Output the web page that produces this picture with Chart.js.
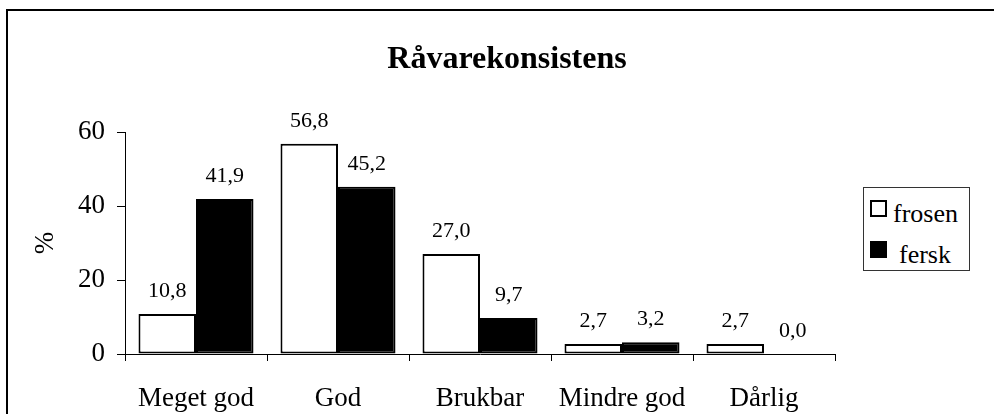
<!DOCTYPE html>
<html>
<head>
<meta charset="utf-8">
<script src="https://cdn.jsdelivr.net/npm/chart.js@4.4.0/dist/chart.umd.min.js"></script>
<style>
  html, body { margin: 0; padding: 0; background: #fff; }
  #wrap { position: relative; width: 994px; height: 414px; overflow: hidden; }
  #frame { position: absolute; left: 6px; top: 9px; width: 1000px; height: 420px;
           border-left: 2px solid #000; border-top: 2px solid #000; }
  #chart { position: absolute; left: 0; top: 0; }
  #legend { position: absolute; left: 863px; top: 187px; width: 105px; height: 82px;
            border: 1px solid #333; background: #fff;
            font-family: "Liberation Serif", "Times New Roman", serif; font-size: 26px; }
  #legend .item { position: absolute; left: 0; height: 30px; }
  #legend .box { position: absolute; left: 6px; width: 13px; height: 13px; border: 2px solid #000; }
  #legend .txt { position: absolute; left: 29px; line-height: 26px; white-space: nowrap; }
  #legend .item:nth-child(2) .txt { left: 35px; }
</style>
</head>
<body>
<div id="wrap">
  <div id="frame"></div>
  <canvas id="chart" width="994" height="414"></canvas>
  <div id="legend"></div>
</div>
<script>
// data
const categories = ['Meget god', 'God', 'Brukbar', 'Mindre god', 'Dårlig'];
const frosen = [10.8, 56.8, 27.0, 2.7, 2.7];
const fersk = [41.9, 45.2, 9.7, 3.2, 0.0];
const yTicks = [0, 20, 40, 60];

const serif = '"Liberation Serif", "Times New Roman", serif';

// value labels above every bar, decimal comma
const valueLabels = {
    id: 'valueLabels',
    afterDatasetsDraw(chart) {
        const ctx = chart.ctx;
        ctx.save();
        ctx.font = '22px ' + serif;
        ctx.fillStyle = '#000';
        ctx.textAlign = 'center';
        ctx.textBaseline = 'alphabetic';
        chart.data.datasets.forEach((ds, i) => {
            chart.getDatasetMeta(i).data.forEach((bar, j) => {
                ctx.fillText(ds.data[j].toFixed(1).replace('.', ','), bar.x, bar.y - 17);
            });
        });
        ctx.restore();
    }
};

const chart = new Chart(document.getElementById('chart'), {
    type: 'bar',
    data: {
        labels: categories,
        datasets: [{
            label: 'frosen',
            data: frosen,
            backgroundColor: '#fff',
            borderColor: '#000',
            borderWidth: 2,
            borderSkipped: false
        }, {
            label: 'fersk',
            data: fersk,
            backgroundColor: '#000',
            borderColor: '#000',
            borderWidth: 2,
            borderSkipped: false
        }]
    },
    options: {
        responsive: false,
        animation: false,
        layout: { padding: { left: 20, right: 0, top: 0, bottom: 0 } },
        datasets: { bar: { categoryPercentage: 0.81, barPercentage: 1.0 } },
        scales: {
            y: {
                min: yTicks[0],
                max: yTicks[yTicks.length - 1],
                ticks: { stepSize: yTicks[1] - yTicks[0], color: '#000', padding: 12,
                         font: { family: serif, size: 27 } },
                grid: { drawOnChartArea: false, drawTicks: true, tickLength: 8, color: '#000' },
                border: { color: '#000', width: 1 },
                title: { display: true, text: '%', color: '#000', padding: { top: 10, bottom: 0 },
                         font: { family: serif, size: 27 } },
                afterFit: s => { s.width = 105; }
            },
            yRight: {
                position: 'right',
                display: true,
                ticks: { display: false },
                grid: { display: false },
                border: { display: false },
                afterFit: s => { s.width = 159; }
            },
            x: {
                ticks: { color: '#000', padding: 22, font: { family: serif, size: 27 } },
                grid: { drawOnChartArea: false, offset: true, tickLength: 7, color: '#000' },
                border: { color: '#000', width: 1 },
                afterFit: s => { s.height = 60; }
            }
        },
        plugins: {
            title: {
                display: true,
                text: 'Råvarekonsistens',
                color: '#000',
                font: { family: serif, size: 32, weight: 'bold' },
                padding: { top: 41, bottom: 52.6 }
            },
            legend: { display: false },
            tooltip: { enabled: false }
        }
    },
    plugins: [valueLabels]
});

// legend as html, built from the datasets
const legendEl = document.getElementById('legend');
const rowTops = [12, 53];
chart.data.datasets.forEach((ds, i) => {
    const item = document.createElement('div');
    item.className = 'item';
    item.style.top = rowTops[i] + 'px';
    const box = document.createElement('div');
    box.className = 'box';
    box.style.background = ds.backgroundColor;
    const txt = document.createElement('span');
    txt.className = 'txt';
    txt.style.top = '1px';
    txt.textContent = ds.label;
    item.appendChild(box);
    item.appendChild(txt);
    legendEl.appendChild(item);
});
</script>
</body>
</html>
